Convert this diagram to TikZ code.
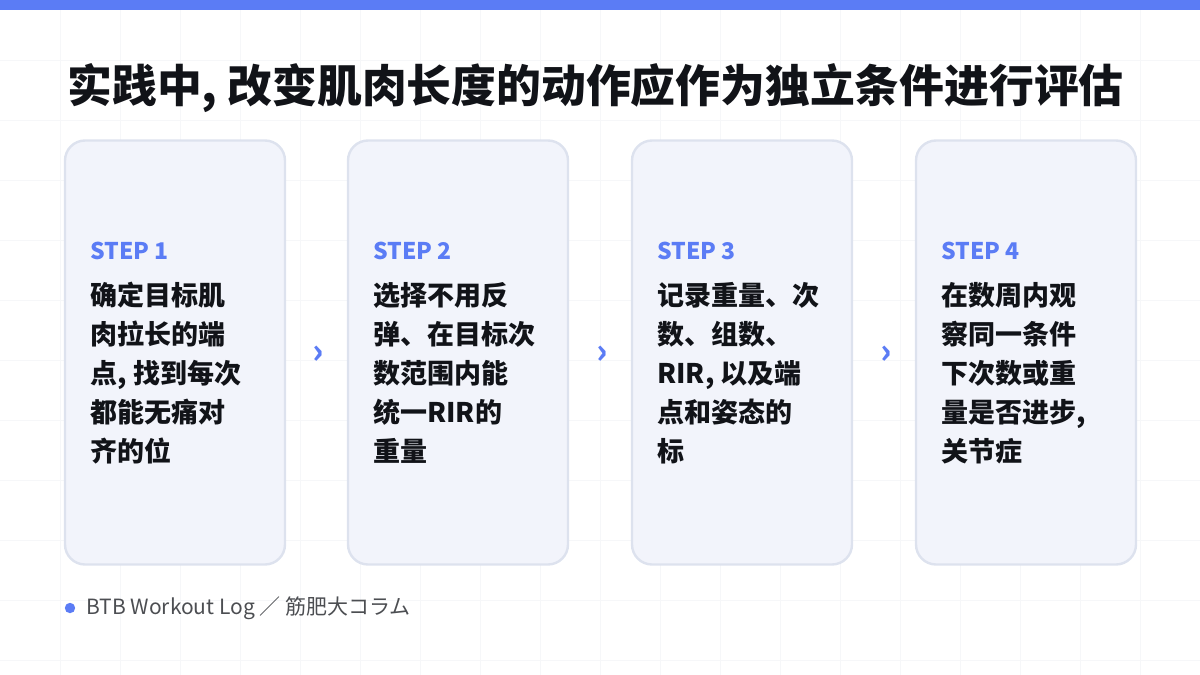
\documentclass[tikz,border=0pt]{standalone}
\usepackage{fontspec}
\setmainfont{Noto Sans CJK SC}
\usetikzlibrary{positioning, calc}
\definecolor{accent}{HTML}{5B7CF5}
\definecolor{cardfill}{HTML}{F2F4FB}
\definecolor{cardline}{HTML}{DDE2EE}
\definecolor{ink}{HTML}{111318}
\definecolor{gridc}{HTML}{F6F7F9}
\tikzset{
  card/.style={rectangle, rounded corners=10pt, draw=cardline, line width=1.2pt, fill=cardfill, minimum width=110pt, minimum height=212pt},
  steplabel/.style={anchor=base west, inner sep=0, text=accent, font=\fontsize{11.5}{12}\selectfont\bfseries},
  body/.style={anchor=north west, inner sep=0, text=ink, align=left, font=\fontsize{13.5}{19.5}\selectfont\bfseries},
  chev/.style={text=accent, font=\fontsize{17}{17}\selectfont\bfseries, inner sep=0}
}
\begin{document}
\begin{tikzpicture}[x=0.5pt, y=-0.5pt]
\useasboundingbox (0,0) rectangle (1200,675);
% grid and top bar
\foreach \i in {60,120,...,1140} \draw[gridc, line width=0.4pt] (\i,10) -- (\i,675);
\foreach \j in {60,120,...,660} \draw[gridc, line width=0.4pt] (0,\j) -- (1200,\j);
\fill[accent] (0,0) rectangle (1200,10);

% Title
\node[anchor=base west, inner sep=0, text=ink, font=\fontsize{22.4}{24}\selectfont\bfseries] (title) at (67,102) {实践中, 改变肌肉长度的动作应作为独立条件进行评估};

% Cards
\node[card] (c1) at (175,352.5) {};
\node[card] (c2) at (458,352.5) {};
\node[card] (c3) at (742,352.5) {};
\node[card] (c4) at (1026,352.5) {};

\node[steplabel] (s1) at (90,259) {STEP 1};
\node[steplabel] (s2) at (373,259) {STEP 2};
\node[steplabel] (s3) at (657,259) {STEP 3};
\node[steplabel] (s4) at (941,259) {STEP 4};

\node[body] (b1) at (90,282) {确定目标肌\\肉拉长的端\\点, 找到每次\\都能无痛对\\齐的位};
\node[body] (b2) at (373,282) {选择不用反\\弹、在目标次\\数范围内能\\统一RIR的\\重量};
\node[body] (b3) at (657,282) {记录重量、次\\数、组数、\\RIR, 以及端\\点和姿态的\\标};
\node[body] (b4) at (941,282) {在数周内观\\察同一条件\\下次数或重\\量是否进步,\\关节症};

% Chevrons
\node[chev] (a1) at ($(c1.east)!0.5!(c2.west)+(2,2)$) {›};
\node[chev] (a2) at ($(c2.east)!0.5!(c3.west)+(2,2)$) {›};
\node[chev] (a3) at ($(c3.east)!0.5!(c4.west)+(2,2)$) {›};

% Footer
\fill[accent] (70,608) circle (2.6pt);
\node[anchor=west, inner sep=0, text=ink!75, font=\fontsize{10.5}{11}\selectfont] (foot) at (86,608) {BTB Workout Log ／ 筋肥大コラム};
\end{tikzpicture}
\end{document}
